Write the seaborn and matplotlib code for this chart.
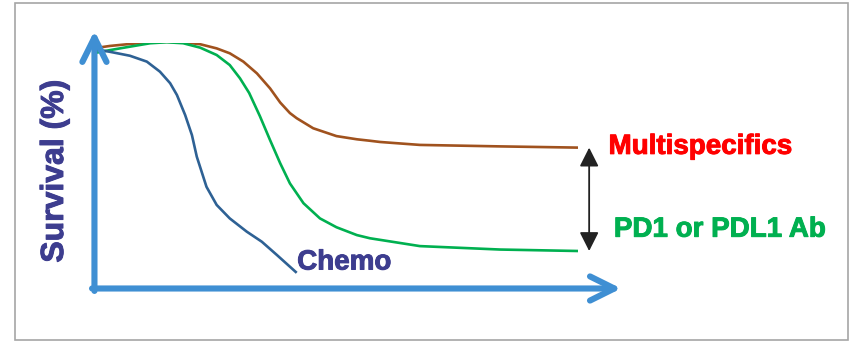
import matplotlib
matplotlib.use("Agg")
import matplotlib.pyplot as plt
import matplotlib.patheffects as pe
import seaborn as sns
import pandas as pd
from matplotlib.patches import Rectangle

# ---------------- data (time in arbitrary units, survival in %) ----------------
multi_time = [0, 3.5, 7.6, 11.8, 15.2, 18.6, 22.1, 25.5, 28.2, 31.0, 33.8, 36.5,
              38.6, 40.6, 42.0, 45.4, 50.2, 54.4, 57.1, 59.2, 67.4, 83.9, 100]
multi_surv = [97.8, 98.8, 99.6, 100.3, 100.5, 100.3, 99.5, 97.8, 95.8, 92.4, 87.6, 81.5,
              75.7, 71.4, 69.3, 65.2, 62.0, 60.7, 60.1, 59.6, 58.4, 57.8, 57.3]

pd1_time = [0, 3.5, 7.6, 11.8, 15.2, 18.6, 22.1, 25.5, 28.2, 30.3, 32.2, 34.4,
            36.5, 38.6, 40.6, 43.4, 46.8, 50.2, 54.4, 57.1, 67.4, 83.9, 100]
pd1_surv = [95.8, 97.1, 98.5, 99.9, 100.3, 99.9, 98.1, 95.1, 91.0, 85.6, 79.6, 70.2,
            60.4, 50.9, 42.7, 34.6, 28.4, 24.8, 21.6, 20.3, 17.1, 15.7, 15.1]

chemo_time = [0, 3.5, 7.6, 11.1, 13.8, 15.9, 17.3, 19.0, 20.4, 21.4, 23.4, 25.5,
              28.2, 31.7, 34.8, 37.9, 42.0]
chemo_surv = [97.6, 96.4, 94.8, 92.4, 88.3, 83.6, 78.8, 70.6, 62.4, 53.6, 41.3, 33.9,
              28.4, 23.0, 18.9, 13.5, 6.2]

series_names = ["Multispecifics", "PD1 or PDL1 Ab", "Chemo"]
y_label = "Survival (%)"

# ---------------- styling ----------------
sns.set_style("white")
plt.rcParams["font.family"] = ["Liberation Sans", "DejaVu Sans"]

line_colors = {"Multispecifics": "#A0521E", "PD1 or PDL1 Ab": "#00B050", "Chemo": "#2E6194"}
text_colors = {"Multispecifics": "#FF0000", "PD1 or PDL1 Ab": "#00B050", "Chemo": "#3D3D8F"}
axis_blue = "#3F8FD3"

df = pd.concat([
    pd.DataFrame({"time": multi_time, "survival": multi_surv, "group": series_names[0]}),
    pd.DataFrame({"time": pd1_time, "survival": pd1_surv, "group": series_names[1]}),
    pd.DataFrame({"time": chemo_time, "survival": chemo_surv, "group": series_names[2]}),
])

W, H, DPI = 852, 341, 100
fig = plt.figure(figsize=(W / DPI, H / DPI), dpi=DPI)
ax = fig.add_axes([93 / W, 53 / H, 485 / W, 245 / H])

sns.lineplot(data=df, x="time", y="survival", hue="group", palette=line_colors,
             sort=False, estimator=None, linewidth=1.9, legend=False, ax=ax)
for ln in ax.lines:
    ln.set_solid_joinstyle("round")
    ln.set_solid_capstyle("butt")
ax.set_xlim(0, 100)
ax.set_ylim(0, 100)
ax.set_axis_off()

# axis arrows (axes fraction)
arrow_kw = dict(arrowstyle="->,head_length=1.75,head_width=0.87", lw=4.4,
                color=axis_blue, shrinkA=0, shrinkB=0, mutation_scale=10,
                capstyle="round", joinstyle="round")
ax.annotate("", xy=(0.003, 1.05), xytext=(0.003, -0.012), xycoords="axes fraction",
            arrowprops=arrow_kw, annotation_clip=False)
ax.annotate("", xy=(1.089, -0.002), xytext=(-0.002, -0.002), xycoords="axes fraction",
            arrowprops=arrow_kw, annotation_clip=False)

# double arrow between plateaus
gap_x = 102.3
ax.annotate("", xy=(gap_x, multi_surv[-1]), xytext=(gap_x, pd1_surv[-1]),
            arrowprops=dict(arrowstyle="<|-|>,head_length=1.15,head_width=0.58",
                            lw=1.3, color="#222222", shrinkA=0, shrinkB=0,
                            mutation_scale=10),
            annotation_clip=False)

# labels
def heavy(color):
    return [pe.withStroke(linewidth=0.7, foreground=color)]

ax.text(106.3, 57.6, series_names[0], color=text_colors["Multispecifics"], fontsize=20,
        fontweight="bold", ha="left", va="center", clip_on=False,
        path_effects=heavy(text_colors["Multispecifics"]))
ax.text(107.4, 23.8, series_names[1], color=text_colors["PD1 or PDL1 Ab"], fontsize=20,
        fontweight="bold", ha="left", va="center", clip_on=False,
        path_effects=heavy(text_colors["PD1 or PDL1 Ab"]))
ax.text(42.1, 10.4, series_names[2], color=text_colors["Chemo"], fontsize=20,
        fontweight="bold", ha="left", va="center", clip_on=False,
        path_effects=heavy(text_colors["Chemo"]))

fig.text(55 / W, 1 - 171 / H, y_label, rotation=90, color="#3D3D8F", fontsize=23,
         fontweight="bold", ha="center", va="center", path_effects=heavy("#3D3D8F"))

# outer frame
fig.patches.append(Rectangle((15 / W, 1 / H), 833 / W, 337 / H, transform=fig.transFigure,
                             fill=False, edgecolor="#A6A6A6", lw=1.2))

fig.savefig("out.png", dpi=DPI)
